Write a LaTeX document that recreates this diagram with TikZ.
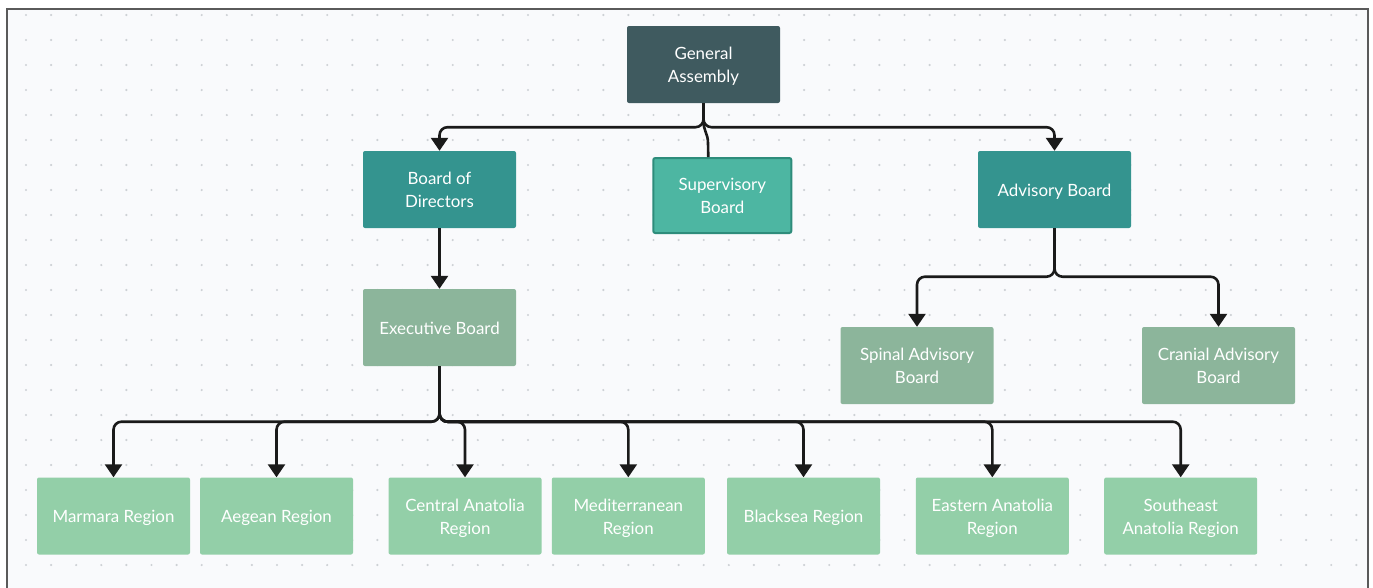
\documentclass[tikz,border=0pt]{standalone}
\usepackage{fontspec}
\setmainfont{Lato}
\usetikzlibrary{arrows.meta}
\definecolor{bgc}{HTML}{F9FAFC}
\definecolor{dotc}{HTML}{CDD1D5}
\definecolor{framec}{HTML}{5A5A5A}
\definecolor{gac}{HTML}{3F5A5F}
\definecolor{tealc}{HTML}{34948F}
\definecolor{supc}{HTML}{4DB6A2}
\definecolor{supb}{HTML}{2E8C7B}
\definecolor{sagec}{HTML}{8CB59B}
\definecolor{regc}{HTML}{93CFA8}
\definecolor{linec}{HTML}{1A1A1A}
\newcommand\sst{\rule[-2.8pt]{0pt}{19pt}}
\tikzset{
  box/.style={draw=none, minimum width=153pt, minimum height=77pt, rounded corners=2pt,
    text=white, font=\fontsize{16.9}{23}\selectfont, align=center, inner sep=0pt},
  conn/.style={draw=linec, line width=2.6pt, rounded corners=8pt,
    -{Triangle[width=17pt,length=13pt]}},
  plainconn/.style={draw=linec, line width=2.6pt}
}
\begin{document}
\begin{tikzpicture}[x=1pt,y=-1pt]
\useasboundingbox (0,0) rectangle (1373,587);
\fill[white] (0,0) rectangle (1373,587);
\fill[bgc] (7,9) rectangle (1368,590);
\foreach \i in {0,...,53} {
  \foreach \j in {0,...,22} {
    \fill[dotc] (26+25.1*\i, 15+25*\j) circle (1.2pt);
  }
}
\draw[framec, line width=2pt] (7,590) -- (7,9) -- (1368,9) -- (1368,590);

% nodes
\node[box, fill=gac] (ga) at (703.5,64.5) {\sst General\\\sst Assembly};
\node[box, fill=tealc] (bod) at (439.5,189.5) {\sst Board of\\\sst Directors};
\node[box, fill=supc, draw=supb, line width=2pt, minimum width=138pt, minimum height=75pt] (sup) at (722.3,195.5) {\sst Supervisory\\\sst Board};
\node[box, fill=tealc] (adv) at (1054.5,189.5) {\sst Advisory Board};
\node[box, fill=sagec] (exec) at (439.5,327.5) {\sst Executive Board};
\node[box, fill=sagec] (spinal) at (917,365.5) {\sst Spinal Advisory\\\sst Board};
\node[box, fill=sagec] (cranial) at (1218.5,365.5) {\sst Cranial Advisory\\\sst Board};
\node[box, fill=regc] (marmara) at (113.5,516) {\sst Marmara Region};
\node[box, fill=regc] (aegean) at (276.5,516) {\sst Aegean Region};
\node[box, fill=regc] (central) at (465,516) {\sst Central Anatolia\\\sst Region};
\node[box, fill=regc] (medit) at (628.3,516) {\sst Mediterranean\\\sst Region};
\node[box, fill=regc] (black) at (803.5,516) {\sst Blacksea Region};
\node[box, fill=regc] (eastern) at (992.3,516) {\sst Eastern Anatolia\\\sst Region};
\node[box, fill=regc] (southeast) at (1180.7,516) {\sst Southeast\\\sst Anatolia Region};

\coordinate (supin) at ([xshift=-14pt]sup.north);

% connectors
\draw[conn] (ga.south) -- ++(0,24) -| (bod.north);
\draw[conn] (ga.south) -- ++(0,24) -| (adv.north);
\draw[plainconn] (ga.south) -- ++(0,18) .. controls +(0,10) and +(0,-10) .. ++(4.5,22) -- (supin);
\draw[conn] (bod.south) -- (exec.north);
\draw[conn] (adv.south) -- ++(0,48.5) -| (spinal.north);
\draw[conn] (adv.south) -- ++(0,48.5) -| (cranial.north);
\foreach \r in {marmara,aegean,central,medit,black,eastern,southeast} {
  \draw[conn] (exec.south) -- ++(0,55.5) -| (\r.north);
}
\end{tikzpicture}
\end{document}
